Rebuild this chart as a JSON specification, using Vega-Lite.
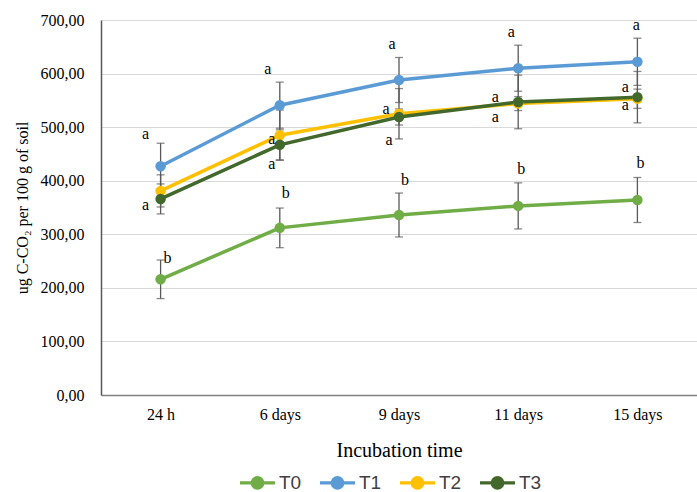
{
  "$schema": "https://vega.github.io/schema/vega-lite/v6.json",
  "width": 596,
  "height": 375,
  "autosize": {"type": "none"},
  "padding": {"left": 101, "top": 20, "right": 0, "bottom": 97},
  "background": "white",
  "config": {
    "view": {"stroke": null},
    "locale": {"number": {"decimal": ",", "thousands": ".", "grouping": [3], "currency": ["", ""]}},
    "font": "Liberation Serif",
    "text": {"fontSize": 16, "font": "Liberation Serif", "color": "#000000", "baseline": "middle"}
  },
  "data": {"values": [
    {"time": "24 h", "series": "T0", "value": 216, "sd": 36, "letter": "b"},
    {"time": "6 days", "series": "T0", "value": 312, "sd": 37, "letter": "b"},
    {"time": "9 days", "series": "T0", "value": 336, "sd": 41, "letter": "b"},
    {"time": "11 days", "series": "T0", "value": 353, "sd": 43, "letter": "b"},
    {"time": "15 days", "series": "T0", "value": 364, "sd": 42, "letter": "b"},
    {"time": "24 h", "series": "T1", "value": 427, "sd": 43, "letter": "a"},
    {"time": "6 days", "series": "T1", "value": 541, "sd": 43, "letter": "a"},
    {"time": "9 days", "series": "T1", "value": 588, "sd": 42, "letter": "a"},
    {"time": "11 days", "series": "T1", "value": 610, "sd": 43, "letter": "a"},
    {"time": "15 days", "series": "T1", "value": 622, "sd": 44, "letter": "a"},
    {"time": "24 h", "series": "T2", "value": 381, "sd": 30, "letter": null},
    {"time": "6 days", "series": "T2", "value": 485, "sd": 47, "letter": "a"},
    {"time": "9 days", "series": "T2", "value": 525, "sd": 47, "letter": "a"},
    {"time": "11 days", "series": "T2", "value": 544, "sd": 13, "letter": "a"},
    {"time": "15 days", "series": "T2", "value": 553, "sd": 18, "letter": "a"},
    {"time": "24 h", "series": "T3", "value": 366, "sd": 28, "letter": "a"},
    {"time": "6 days", "series": "T3", "value": 467, "sd": 28, "letter": "a"},
    {"time": "9 days", "series": "T3", "value": 519, "sd": 15, "letter": "a"},
    {"time": "11 days", "series": "T3", "value": 547, "sd": 50, "letter": "a"},
    {"time": "15 days", "series": "T3", "value": 556, "sd": 48, "letter": "a"}
  ]},
  "encoding": {
    "x": {
      "field": "time", "type": "ordinal",
      "sort": ["24 h", "6 days", "9 days", "11 days", "15 days"],
      "scale": {"type": "point", "padding": 0.5},
      "axis": {
        "title": "Incubation time", "titleFont": "Liberation Serif", "titleFontSize": 20, "titleFontWeight": "normal",
        "titleColor": "#000000", "titlePadding": 18,
        "labelFont": "Liberation Serif", "labelFontSize": 16, "labelColor": "#000000", "labelPadding": 11,
        "labelAngle": 0, "domain": true, "domainColor": "#808080", "domainWidth": 1.3, "ticks": false, "grid": false
      }
    },
    "y": {
      "field": "value", "type": "quantitative",
      "scale": {"domain": [0, 700], "nice": false},
      "axis": {
        "title": "ug C-CO₂ per 100 g of soil", "titleFont": "Liberation Serif", "titleFontSize": 16, "titleFontWeight": "normal",
        "titleColor": "#000000", "titlePadding": 10,
        "values": [0, 100, 200, 300, 400, 500, 600, 700], "format": ",.2f",
        "labelFont": "Liberation Serif", "labelFontSize": 16, "labelColor": "#000000", "labelPadding": 17,
        "domain": true, "domainColor": "#595959", "domainWidth": 1.5, "ticks": false,
        "grid": true, "gridColor": "#d9d9d9", "gridWidth": 1.2
      }
    }
  },
  "layer": [
    {
      "mark": {"type": "errorbar", "ticks": {"size": 8, "color": "#595959", "thickness": 1.3}, "rule": {"color": "#595959", "strokeWidth": 1.3}},
      "encoding": {
        "y": {"field": "value", "type": "quantitative"},
        "yError": {"field": "sd"},
        "detail": {"field": "series"}
      }
    },
    {
      "mark": {"type": "line", "strokeWidth": 3.5},
      "encoding": {
        "color": {
          "field": "series", "type": "nominal",
          "scale": {"domain": ["T0", "T1", "T2", "T3"], "range": ["#70AD47", "#5B9BD5", "#FFC000", "#43682B"]},
          "legend": {
            "orient": "none", "direction": "horizontal", "legendX": 137, "legendY": 443, "title": null,
            "symbolType": "M-1,0L1,0M-0.3,0A0.3,0.3 0 1,1 0.3,0A0.3,0.3 0 1,1 -0.3,0Z",
            "symbolSize": 1225, "symbolStrokeWidth": 3.2, "labelFont": "Liberation Sans", "labelFontSize": 19,
            "labelColor": "#404040", "labelOffset": 2, "columnPadding": 11
          }
        }
      }
    },
    {
      "mark": {"type": "point", "filled": true, "size": 110, "opacity": 1},
      "encoding": {"color": {"field": "series", "type": "nominal"}}
    },
    {"transform": [{"filter": "datum.series === 'T1' && datum.time === '24 h'"}], "mark": {"type": "text", "dx": -15, "dy": -32}, "encoding": {"text": {"field": "letter"}}},
    {"transform": [{"filter": "datum.series === 'T1' && datum.time === '6 days'"}], "mark": {"type": "text", "dx": -12, "dy": -36}, "encoding": {"text": {"field": "letter"}}},
    {"transform": [{"filter": "datum.series === 'T1' && (datum.time === '9 days' || datum.time === '11 days')"}], "mark": {"type": "text", "dx": -7, "dy": -36}, "encoding": {"text": {"field": "letter"}}},
    {"transform": [{"filter": "datum.series === 'T1' && datum.time === '15 days'"}], "mark": {"type": "text", "dx": -1, "dy": -37}, "encoding": {"text": {"field": "letter"}}},
    {"transform": [{"filter": "datum.series === 'T0' && datum.time === '24 h'"}], "mark": {"type": "text", "dx": 7, "dy": -21}, "encoding": {"text": {"field": "letter"}}},
    {"transform": [{"filter": "datum.series === 'T0' && (datum.time === '6 days' || datum.time === '9 days')"}], "mark": {"type": "text", "dx": 6, "dy": -35}, "encoding": {"text": {"field": "letter"}}},
    {"transform": [{"filter": "datum.series === 'T0' && (datum.time === '11 days' || datum.time === '15 days')"}], "mark": {"type": "text", "dx": 3, "dy": -37}, "encoding": {"text": {"field": "letter"}}},
    {"transform": [{"filter": "datum.series === 'T2' && datum.time === '6 days'"}], "mark": {"type": "text", "dx": -8, "dy": 4}, "encoding": {"text": {"field": "letter"}}},
    {"transform": [{"filter": "datum.series === 'T2' && datum.time === '9 days'"}], "mark": {"type": "text", "dx": -13, "dy": -5}, "encoding": {"text": {"field": "letter"}}},
    {"transform": [{"filter": "datum.series === 'T2' && datum.time === '11 days'"}], "mark": {"type": "text", "dx": -23, "dy": -7}, "encoding": {"text": {"field": "letter"}}},
    {"transform": [{"filter": "datum.series === 'T2' && datum.time === '15 days'"}], "mark": {"type": "text", "dx": -12, "dy": -12}, "encoding": {"text": {"field": "letter"}}},
    {"transform": [{"filter": "datum.series === 'T3' && datum.time === '24 h'"}], "mark": {"type": "text", "dx": -15, "dy": 6}, "encoding": {"text": {"field": "letter"}}},
    {"transform": [{"filter": "datum.series === 'T3' && datum.time === '6 days'"}], "mark": {"type": "text", "dx": -8, "dy": 19}, "encoding": {"text": {"field": "letter"}}},
    {"transform": [{"filter": "datum.series === 'T3' && datum.time === '9 days'"}], "mark": {"type": "text", "dx": -10, "dy": 23}, "encoding": {"text": {"field": "letter"}}},
    {"transform": [{"filter": "datum.series === 'T3' && datum.time === '11 days'"}], "mark": {"type": "text", "dx": -23, "dy": 15}, "encoding": {"text": {"field": "letter"}}},
    {"transform": [{"filter": "datum.series === 'T3' && datum.time === '15 days'"}], "mark": {"type": "text", "dx": -12, "dy": 8}, "encoding": {"text": {"field": "letter"}}}
  ]
}
